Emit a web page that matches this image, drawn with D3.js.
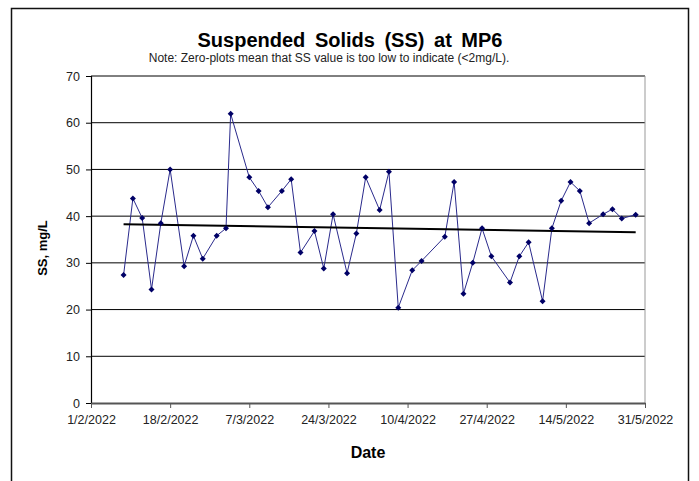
<!DOCTYPE html>
<html lang="en">
<head>
    <meta charset="UTF-8">
    <title>Suspended Solids (SS) at MP6</title>
    <style>
        body { margin: 0; background: #fff; }
        svg { display: block; font-family: Arial, "Liberation Sans", sans-serif; }
    </style>
</head>
<body>
    <script src="https://cdnjs.cloudflare.com/ajax/libs/d3/7.8.2/d3.min.js"></script>
    <script>

        // sampling dates (d/m/yyyy) and SS values
        const dates = [
            "8/2/2022","10/2/2022","12/2/2022","14/2/2022","16/2/2022","18/2/2022",
            "21/2/2022","23/2/2022","25/2/2022","28/2/2022","2/3/2022","3/3/2022",
            "7/3/2022","9/3/2022","11/3/2022","14/3/2022","16/3/2022","18/3/2022",
            "21/3/2022","23/3/2022","25/3/2022","28/3/2022","30/3/2022","1/4/2022",
            "4/4/2022","6/4/2022","8/4/2022","11/4/2022","13/4/2022","18/4/2022",
            "20/4/2022","22/4/2022","24/4/2022","26/4/2022","28/4/2022","2/5/2022",
            "4/5/2022","6/5/2022","9/5/2022","11/5/2022","13/5/2022","15/5/2022",
            "17/5/2022","19/5/2022","22/5/2022","24/5/2022","26/5/2022","29/5/2022"
        ]
        const ssValues = [
            27.4, 43.8, 39.6, 24.3, 38.5, 50.0,
            29.3, 35.8, 30.9, 35.8, 37.4, 61.9,
            48.3, 45.4, 41.9, 45.4, 47.9, 32.2,
            36.8, 28.8, 40.4, 27.8, 36.3, 48.3,
            41.3, 49.5, 20.4, 28.4, 30.4, 35.6,
            47.3, 23.4, 30.0, 37.4, 31.4, 25.8,
            31.4, 34.4, 21.8, 37.4, 43.3, 47.3,
            45.4, 38.5, 40.4, 41.5, 39.5, 40.3
        ]

        const tickDates = ["1/2/2022","18/2/2022","7/3/2022","24/3/2022","10/4/2022","27/4/2022","14/5/2022","31/5/2022"]
        const yTicks = [0,10,20,30,40,50,60,70]

        const w = 699
        const h = 481
        const m = {left : 91, right : 645, top : 76, bottom : 403}

        const parse = d3.timeParse("%d/%m/%Y")
        const data = dates.map((d,i) => ({t : parse(d), v : ssValues[i]}))

        const svg = d3.select("body")
            .append("svg")
                .attr("width",w)
                .attr("height",h)

        // outer frame
        svg.append("rect")
            .attr("x",11.5).attr("y",8.5)
            .attr("width",677).attr("height",480)
            .attr("fill","none").attr("stroke","#111").attr("stroke-width",1.5)

        const x = d3.scaleTime()
            .domain([parse(tickDates[0]), parse(tickDates[tickDates.length-1])])
            .range([m.left,m.right])

        const y = d3.scaleLinear()
            .domain([0,70])
            .range([m.bottom,m.top])

        // gridlines
        svg.append("g")
            .selectAll("line")
            .data(yTicks.filter(d => d > 0))
            .enter()
            .append("line")
                .attr("x1",m.left).attr("x2",m.right)
                .attr("y1",d => y(d)).attr("y2",d => y(d))
                .attr("stroke","#000").attr("stroke-width",1)

        // right border of plot area
        svg.append("line")
            .attr("x1",m.right).attr("x2",m.right)
            .attr("y1",m.top).attr("y2",m.bottom)
            .attr("stroke","#999").attr("stroke-width",1)

        // y axis
        const yAxis = svg.append("g")
            .attr("transform",`translate(${m.left},0)`)
            .call(d3.axisLeft(y).tickValues(yTicks).tickSize(5).tickPadding(6))
        yAxis.select(".domain").attr("stroke","#000").attr("stroke-width",1.2)
        yAxis.selectAll(".tick line").attr("stroke","#000")
        yAxis.selectAll("text").attr("font-size",12.5).attr("fill","#222")

        // x axis
        const xAxis = svg.append("g")
            .attr("transform",`translate(0,${m.bottom})`)
            .call(d3.axisBottom(x)
                .tickValues(tickDates.map(parse))
                .tickFormat(d3.timeFormat("%-d/%-m/%Y"))
                .tickSizeInner(5).tickSizeOuter(0).tickPadding(7))
        xAxis.select(".domain").attr("stroke","#555").attr("stroke-width",2)
        xAxis.selectAll(".tick line").attr("stroke","#555")
        xAxis.selectAll("text").attr("font-size",12.5).attr("fill","#222")

        // series line
        const line = d3.line()
            .x(d => x(d.t))
            .y(d => y(d.v))

        svg.append("path")
            .datum(data)
            .attr("d",line)
            .attr("fill","none")
            .attr("stroke","#2a2a8c")
            .attr("stroke-width",1)

        // linear trendline (least squares)
        const xs = data.map(d => +d.t)
        const mx = d3.mean(xs), my = d3.mean(ssValues)
        const slope = d3.sum(data, d => (+d.t - mx) * (d.v - my)) / d3.sum(xs, v => (v - mx) * (v - mx))
        const trend = [data[0].t, data[data.length-1].t].map(t => ({t : t, v : my + slope * (+t - mx)}))

        svg.append("path")
            .datum(trend)
            .attr("d",line)
            .attr("fill","none")
            .attr("stroke","#000")
            .attr("stroke-width",2)

        // diamond markers
        svg.selectAll(".pt")
            .data(data)
            .enter()
            .append("path")
                .attr("class","pt")
                .attr("transform",d => `translate(${x(d.t)},${y(d.v)})`)
                .attr("d","M0,-3L3,0L0,3L-3,0Z")
                .attr("fill","#000066")

        // titles
        svg.append("text")
            .attr("x",350).attr("y",47)
            .attr("text-anchor","middle")
            .attr("font-size",20).attr("font-weight","bold")
            .attr("word-spacing",4)
            .text("Suspended Solids (SS) at MP6")

        svg.append("text")
            .attr("x",329).attr("y",62)
            .attr("text-anchor","middle")
            .attr("font-size",12).attr("fill","#222")
            .text("Note: Zero-plots mean that SS value is too low to indicate (<2mg/L).")

        svg.append("text")
            .attr("x",368).attr("y",458)
            .attr("text-anchor","middle")
            .attr("font-size",16).attr("font-weight","bold")
            .text("Date")

        svg.append("text")
            .attr("transform","translate(47,248) rotate(-90)")
            .attr("text-anchor","middle")
            .attr("font-size",13).attr("font-weight","bold")
            .text("SS, mg/L")

    </script>
</body>
</html>
